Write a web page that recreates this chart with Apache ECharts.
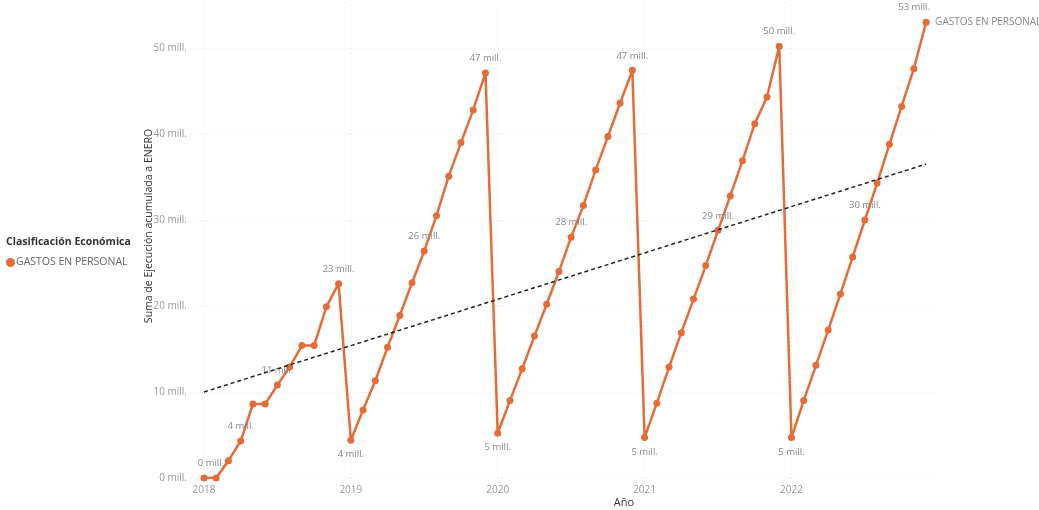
<!DOCTYPE html>
<html>
<head>
<meta charset="utf-8">
<script src="https://cdn.jsdelivr.net/npm/echarts@6/dist/echarts.min.js"></script>
<style>
  html, body { margin: 0; padding: 0; background: #ffffff; }
  #chart { width: 1039px; height: 510px; }
</style>
</head>
<body>
<div id="chart"></div>
<script>
// Monthly accumulated spending (millions), January 2018 .. December 2022
const years = ['2018', '2019', '2020', '2021', '2022'];
const values2018 = [0, 0, 2.0, 4.3, 8.6, 8.6, 10.8, 12.9, 15.4, 15.4, 19.9, 22.6];
const values2019 = [4.4, 7.9, 11.3, 15.2, 18.9, 22.7, 26.4, 30.5, 35.1, 39.0, 42.8, 47.1];
const values2020 = [5.2, 9.0, 12.7, 16.5, 20.2, 24.0, 28.0, 31.7, 35.8, 39.7, 43.6, 47.4];
const values2021 = [4.7, 8.7, 12.9, 16.9, 20.8, 24.7, 28.8, 32.8, 36.9, 41.2, 44.3, 50.2];
const values2022 = [4.7, 9.0, 13.1, 17.2, 21.4, 25.7, 30.0, 34.3, 38.8, 43.2, 47.6, 53.0];

// Month indices that carry a value label; those in labelsBelow sit under the point
const labelledMonths = [0, 3, 6, 11, 12, 18, 23, 24, 30, 35, 36, 42, 47, 48, 54, 59];
const labelsBelow = [12, 24, 36, 48];

// Linear trend line: value at first and last month
const trendStart = 10.0;
const trendEnd = 36.5;

const yTicks = [0, 10, 20, 30, 40, 50];
const seriesName = 'GASTOS EN PERSONAL';

const allValues = [].concat(values2018, values2019, values2020, values2021, values2022);
const lastIndex = allValues.length - 1;
const yearTicks = years.map((y, i) => i * 12);

const FONT = '"Open Sans", "Noto Sans", sans-serif';
const ORANGE = '#E66C37';

const lineData = allValues.map((v, i) => {
  const item = { value: [i, v] };
  if (labelledMonths.indexOf(i) >= 0) {
    let offset = [0, 0];
    if (i === 0) offset = [7, 0];
    if (i === lastIndex) offset = [-12, 0];
    item.label = {
      show: true,
      position: labelsBelow.indexOf(i) >= 0 ? 'bottom' : 'top',
      offset: offset
    };
  }
  return item;
});

const chart = echarts.init(document.getElementById('chart'), null, { renderer: 'canvas' });

chart.setOption({
  animation: false,
  backgroundColor: '#ffffff',
  textStyle: { fontFamily: FONT },
  grid: { left: 190, right: 102, top: 5, bottom: 32, containLabel: false },
  legend: {
    data: [seriesName],
    orient: 'vertical',
    left: 1,
    top: 252,
    icon: 'circle',
    itemWidth: 9,
    itemHeight: 9,
    itemGap: 4,
    textStyle: { fontFamily: FONT, fontSize: 10.5, color: '#666666', padding: [0, 0, 0, -4] }
  },
  graphic: [
    {
      type: 'text', left: 6, top: 237,
      style: { text: 'Clasificación Económica', font: 'bold 10.5px ' + FONT, fill: '#333333' }
    },
    {
      type: 'text', x: 149, y: 226, rotation: Math.PI / 2,
      style: {
        text: 'Suma de Ejecución acumulada a ENERO', font: '10.5px ' + FONT, fill: '#333333',
        align: 'center', verticalAlign: 'middle'
      }
    },
    {
      type: 'text', x: 624, y: 503,
      style: { text: 'Año', font: '11px ' + FONT, fill: '#333333', align: 'center', verticalAlign: 'middle' }
    }
  ],
  xAxis: {
    type: 'value',
    min: -1.14,
    max: 59.89,
    axisLine: { show: false },
    axisTick: { show: false, customValues: yearTicks },
    axisLabel: {
      customValues: yearTicks,
      formatter: v => years[Math.round(v / 12)],
      color: '#999999', fontSize: 10, margin: 7, fontFamily: FONT
    },
    splitLine: { show: true, lineStyle: { color: '#e2e2e2', type: [1, 3], width: 1 } }
  },
  yAxis: {
    type: 'value',
    min: 0,
    max: 55,
    axisLine: { show: false },
    axisTick: { show: false, customValues: yTicks },
    axisLabel: {
      customValues: yTicks,
      formatter: v => v + ' mill.',
      color: '#999999', fontSize: 10, margin: 3, fontFamily: FONT
    },
    splitLine: { show: true, lineStyle: { color: '#e2e2e2', type: [1, 3], width: 1 } }
  },
  series: [
    {
      name: seriesName,
      type: 'line',
      data: lineData,
      color: ORANGE,
      symbol: 'circle',
      symbolSize: 7,
      lineStyle: { color: ORANGE, width: 2.5 },
      itemStyle: { color: ORANGE },
      label: {
        show: false,
        distance: 6,
        color: '#888888',
        fontSize: 9.5,
        fontFamily: FONT,
        formatter: p => Math.round(p.value[1]) + ' mill.'
      },
      endLabel: {
        show: true,
        formatter: '{a}',
        distance: 9,
        color: '#888888',
        fontSize: 10,
        fontFamily: FONT
      },
      z: 3
    },
    {
      name: 'tendencia',
      type: 'line',
      data: [[0, trendStart], [lastIndex, trendEnd]],
      symbol: 'none',
      silent: true,
      lineStyle: { color: '#222222', width: 1.5, type: [4, 3] },
      z: 4
    }
  ]
});
</script>
</body>
</html>
